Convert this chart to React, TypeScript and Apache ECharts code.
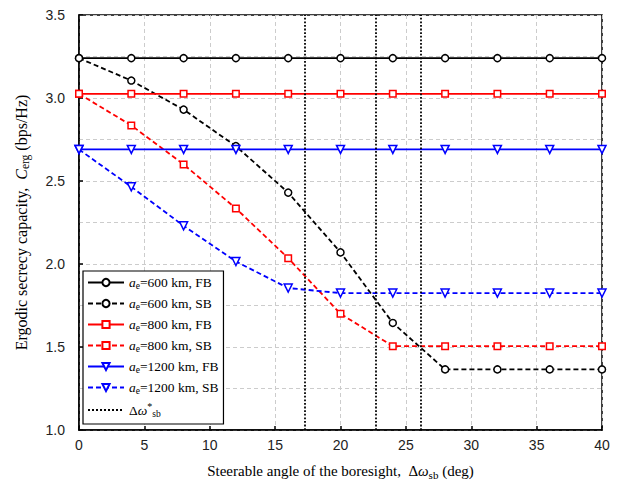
import React, { useEffect, useRef } from "react";
import * as echarts from "echarts";

const angles = [0, 4, 8, 12, 16, 20, 24, 28, 32, 36, 40];
const fb600 = [3.24, 3.24, 3.24, 3.24, 3.24, 3.24, 3.24, 3.24, 3.24, 3.24, 3.24];
const sb600 = [3.24, 3.105, 2.93, 2.71, 2.43, 2.07, 1.645, 1.365, 1.365, 1.365, 1.365];
const fb800 = [3.025, 3.025, 3.025, 3.025, 3.025, 3.025, 3.025, 3.025, 3.025, 3.025, 3.025];
const sb800 = [3.025, 2.835, 2.60, 2.335, 2.035, 1.70, 1.505, 1.505, 1.505, 1.505, 1.505];
const fb1200 = [2.69, 2.69, 2.69, 2.69, 2.69, 2.69, 2.69, 2.69, 2.69, 2.69, 2.69];
const sb1200 = [2.69, 2.465, 2.23, 2.015, 1.855, 1.825, 1.825, 1.825, 1.825, 1.825, 1.825];
const optimalAngles = [17.3, 22.7, 26.1];
const legendLabels: Record<string, string> = {
  "600FB": "{a|a}{sub|e}{t|=600 km, FB}",
  "600SB": "{a|a}{sub|e}{t|=600 km, SB}",
  "800FB": "{a|a}{sub|e}{t|=800 km, FB}",
  "800SB": "{a|a}{sub|e}{t|=800 km, SB}",
  "1200FB": "{a|a}{sub|e}{t|=1200 km, FB}",
  "1200SB": "{a|a}{sub|e}{t|=1200 km, SB}",
  opt: "{t|Δ}{a|ω}{sup|*}{sub|sb}",
};

const serif = "'Liberation Serif', 'Times New Roman', serif";
const sans = "'Liberation Sans', Arial, sans-serif";

export default function App() {
  const ref = useRef<HTMLDivElement>(null);
  useEffect(() => {
    if (!ref.current) return;
    const chart = echarts.init(ref.current, undefined, { renderer: "svg" });
    const pair = (ys: number[]) => angles.map((x, i) => [x, ys[i]]);
    const mk = (name: string, ys: number[], color: string, symbol: string, dashed: boolean, rot = 0) => ({
      name,
      type: "line",
      data: pair(ys),
      symbol,
      symbolSize: symbol === "rect" ? 6.5 : symbol === "circle" ? 7 : 8,
      symbolRotate: rot,
      showAllSymbol: true,
      lineStyle: { color, width: 1.8, type: dashed ? [5, 3] : "solid" },
      itemStyle: { color: "#fff", borderColor: color, borderWidth: 1.5 },
      z: 3,
    });
    const richX = {
      a: { fontFamily: serif, fontStyle: "italic", fontSize: 15, color: "#000", lineHeight: 18 },
      sub: { fontFamily: serif, fontSize: 11, color: "#000", verticalAlign: "bottom", lineHeight: 14, padding: [6, 0, 0, 0] },
      t: { fontFamily: serif, fontSize: 15, color: "#000", lineHeight: 18 },
    };
    const richY = {
      a: { fontFamily: serif, fontStyle: "italic", fontSize: 16, color: "#000", lineHeight: 19 },
      sub: { fontFamily: serif, fontSize: 11.5, color: "#000", verticalAlign: "bottom", lineHeight: 15, padding: [6, 0, 0, 0] },
      t: { fontFamily: serif, fontSize: 16, color: "#000", lineHeight: 19 },
    };
    const richLeg = {
      a: { fontFamily: serif, fontStyle: "italic", fontSize: 13.5, color: "#000", lineHeight: 17 },
      sub: { fontFamily: serif, fontSize: 9.5, color: "#000", verticalAlign: "bottom", lineHeight: 13, padding: [6, 0, 0, 0] },
      sup: { fontFamily: serif, fontSize: 10, color: "#000", verticalAlign: "top", padding: [0, 0, 8, 0] },
      t: { fontFamily: serif, fontSize: 13.5, color: "#000", lineHeight: 17 },
    };
    chart.setOption({
      animation: false,
      backgroundColor: "#fff",
      grid: { left: 79, right: 22, top: 15, bottom: 55, show: true, borderColor: "#000", borderWidth: 1.5, backgroundColor: "transparent" },
      xAxis: {
        type: "value",
        min: 0,
        max: 40,
        interval: 5,
        name: "{t|Steerable angle of the boresight,  Δ}{a|ω}{sub|sb}{t| (deg)}",
        nameLocation: "middle",
        nameGap: 32,
        nameTextStyle: { rich: richX },
        axisLine: { lineStyle: { color: "#000", width: 1.5 } },
        axisTick: { inside: true, length: 4, lineStyle: { color: "#000", width: 1.5 } },
        axisLabel: { fontFamily: sans, fontSize: 14, color: "#222", margin: 8 },
        splitLine: { show: true, lineStyle: { color: "#ccc", type: [4, 3], width: 1 } },
      },
      yAxis: {
        type: "value",
        min: 1,
        max: 3.5,
        interval: 0.5,
        name: "{t|Ergodic secrecy capacity,  }{a|C}{sub|erg}{t| (bps/Hz)}",
        nameLocation: "middle",
        nameRotate: 90,
        nameGap: 48,
        nameTextStyle: { rich: richY },
        axisLine: { lineStyle: { color: "#000", width: 1.5 } },
        axisTick: { inside: true, length: 4, lineStyle: { color: "#000", width: 1.5 } },
        minorTick: { show: false, splitNumber: 2 },
        minorSplitLine: { show: true, lineStyle: { color: "#ccc", type: [4, 3], width: 1 } },
        axisLabel: { fontFamily: sans, fontSize: 14, color: "#222", margin: 14, formatter: (v: number) => v.toFixed(1) },
        splitLine: { show: true, lineStyle: { color: "#ccc", type: [4, 3], width: 1 } },
      },
      legend: {
        orient: "vertical",
        left: 83,
        top: 271,
        backgroundColor: "#fff",
        borderColor: "#000",
        borderWidth: 1.2,
        padding: [4, 5, 5, 4],
        itemGap: 5,
        itemWidth: 36,
        itemHeight: 9,
        formatter: (name: string) => legendLabels[name],
        textStyle: { rich: richLeg },
        data: ["600FB", "600SB", "800FB", "800SB", "1200FB", "1200SB", "opt"],
      },
      series: [
        mk("600FB", fb600, "#000", "circle", false),
        mk("600SB", sb600, "#000", "circle", true),
        mk("800FB", fb800, "#ff0000", "rect", false),
        mk("800SB", sb800, "#ff0000", "rect", true),
        mk("1200FB", fb1200, "#0000ff", "triangle", false, 180),
        mk("1200SB", sb1200, "#0000ff", "triangle", true, 180),
        {
          name: "opt",
          type: "line",
          data: [],
          symbol: "none",
          itemStyle: { color: "#000", opacity: 0 },
          lineStyle: { color: "#000", width: 1.8, type: "dotted" },
          markLine: {
            silent: true,
            symbol: "none",
            label: { show: false },
            lineStyle: { color: "#000", width: 1.8, type: "dotted", opacity: 1 },
            data: optimalAngles.map((x) => ({ xAxis: x })),
          },
          z: 2,
        },
      ],
    });
    return () => chart.dispose();
  }, []);
  return <div ref={ref} style={{ width: 624, height: 485, position: "absolute", left: 0, top: 0 }} />;
}
